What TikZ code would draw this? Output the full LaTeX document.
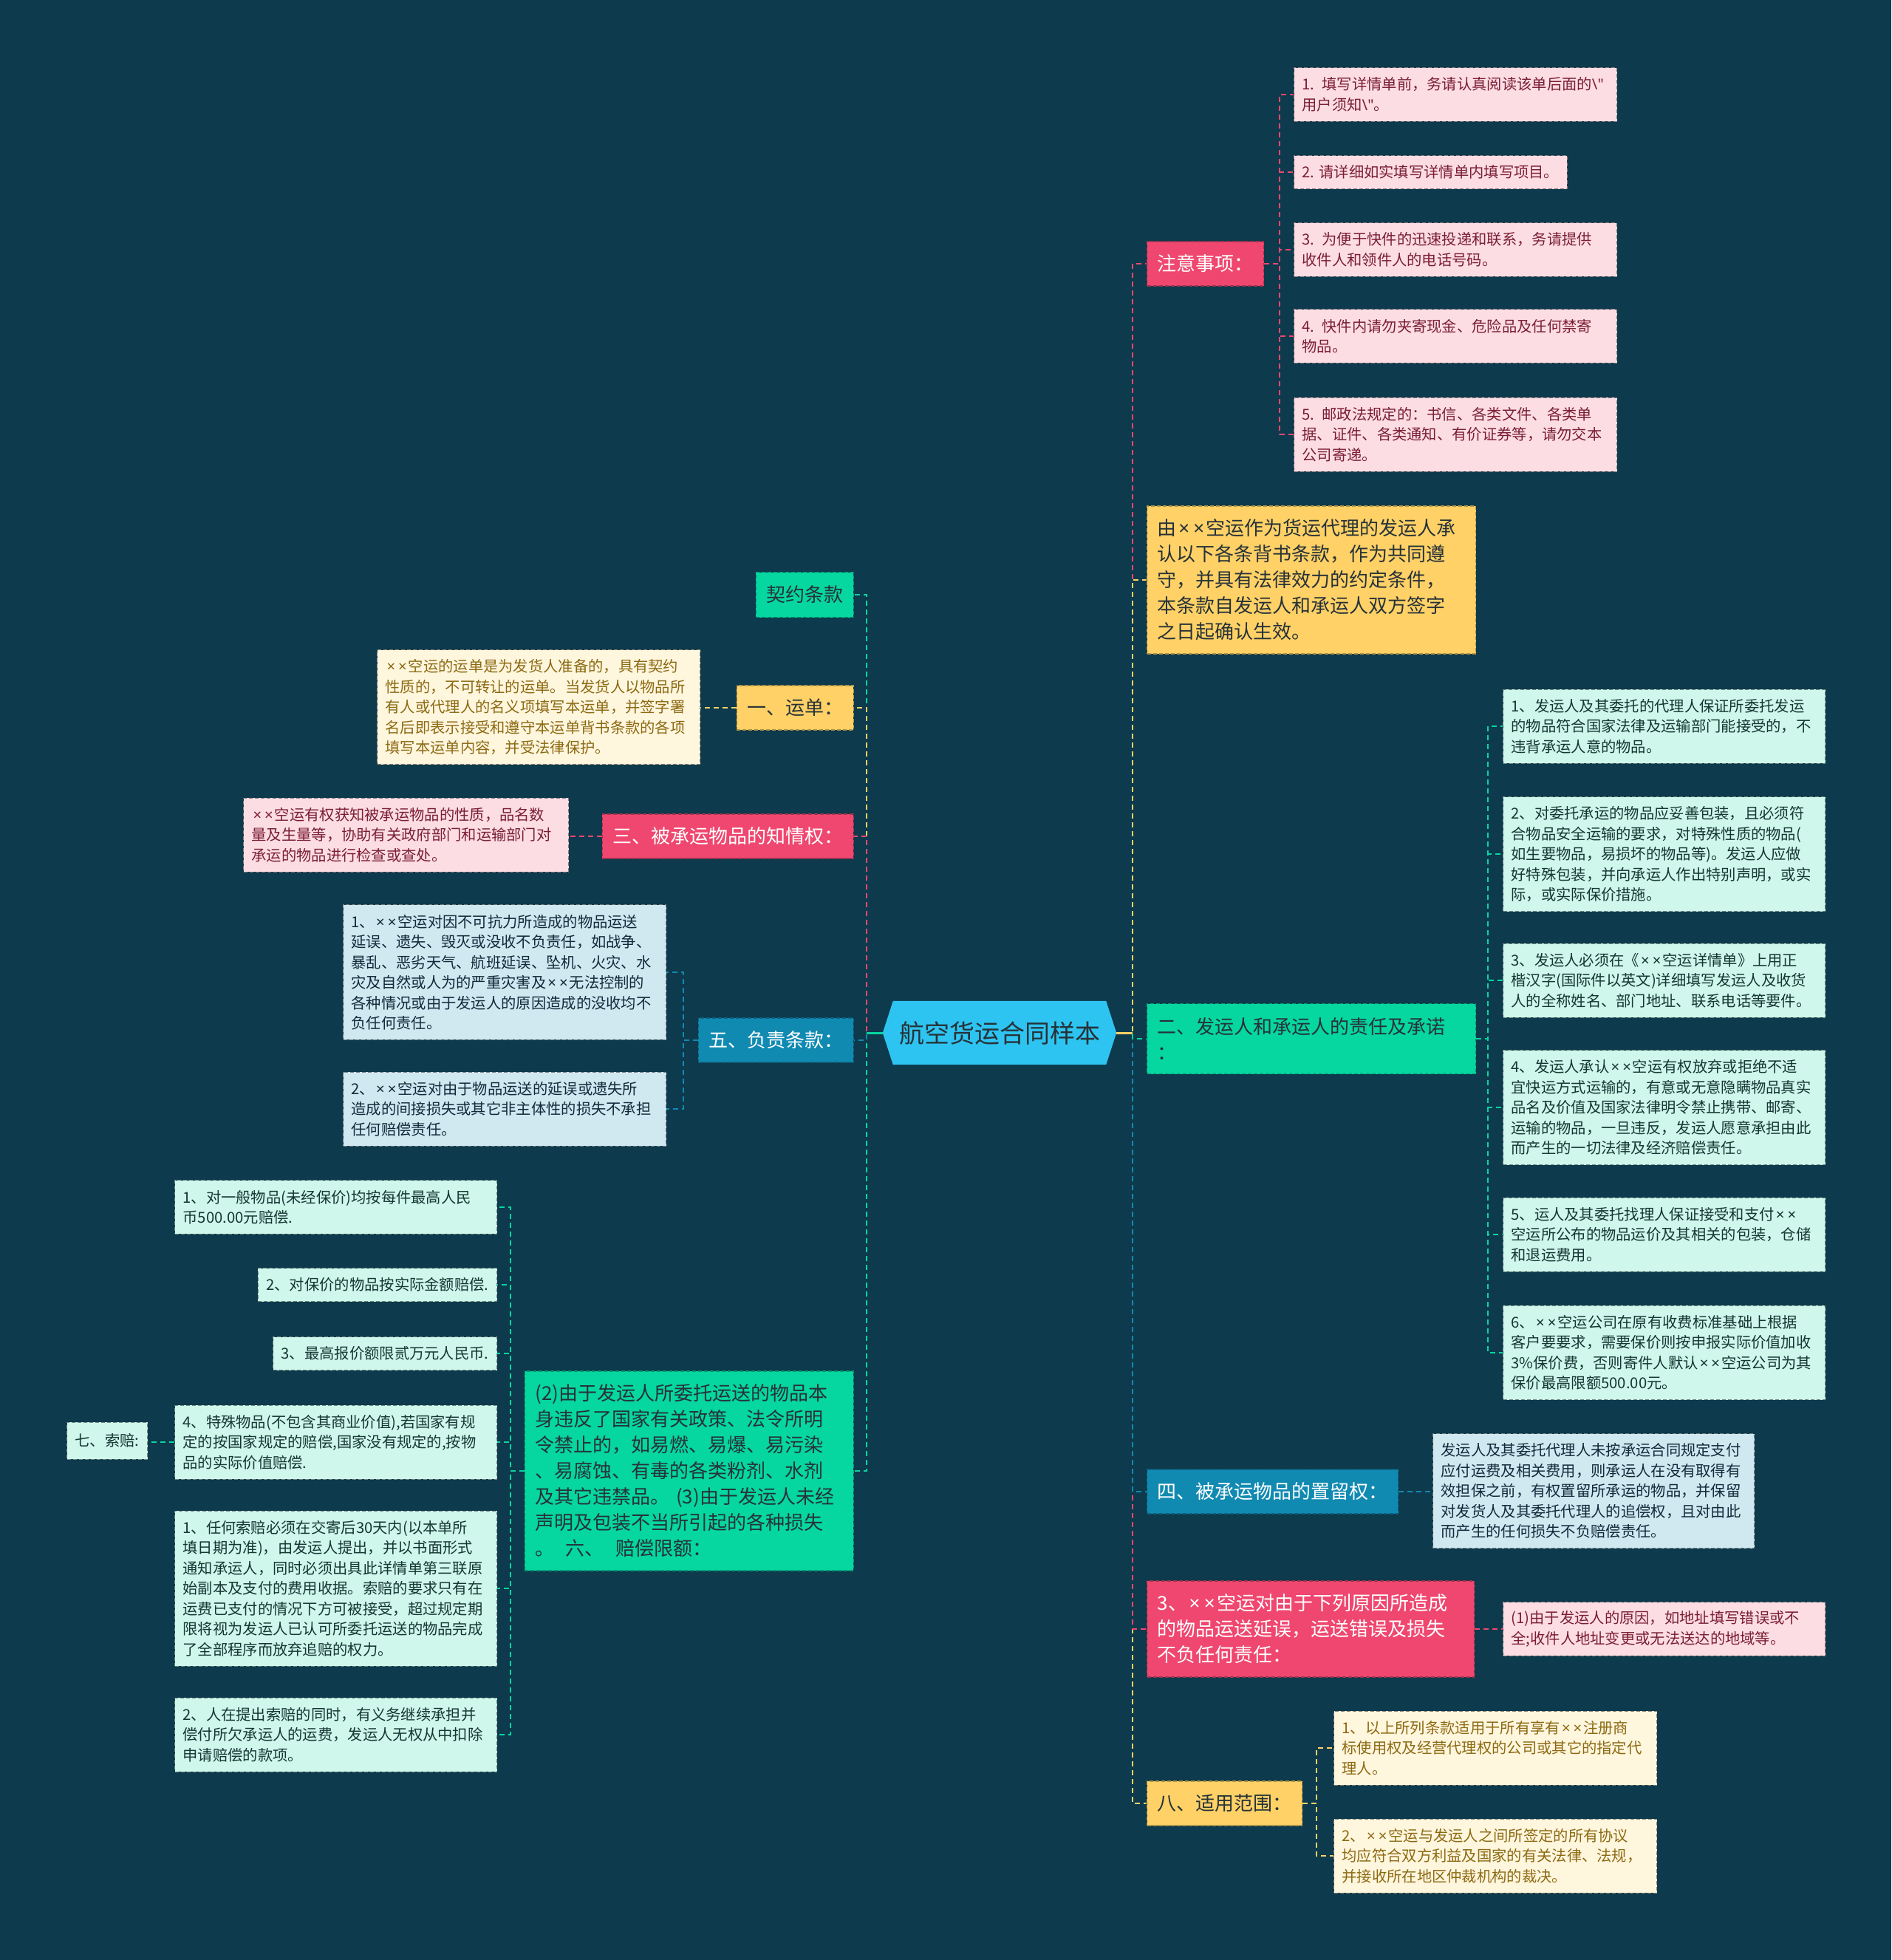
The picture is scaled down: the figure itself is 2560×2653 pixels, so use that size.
\documentclass[tikz,border=0pt]{standalone}
\usepackage{fontspec}
\setmainfont{Noto Sans CJK SC}
\newfontfamily\latf{Noto Sans}
\newcommand{\tms}{{\latf\kern0.1em×\kern0.1em}}
\newcommand{\bsq}{{\latf\textbackslash"}}
\usetikzlibrary{calc}
\pgfdeclarelayer{bglayer}
\pgfsetlayers{bglayer,main}
\definecolor{bgc}{HTML}{0D3A4C}
\definecolor{pk}{HTML}{EF476F}
\definecolor{yl}{HTML}{FFD166}
\definecolor{gn}{HTML}{06D6A0}
\definecolor{bl}{HTML}{118AB2}
\definecolor{ct}{HTML}{2EC4F1}
\definecolor{lpk}{HTML}{FDDDE4}
\definecolor{lyl}{HTML}{FFF6DE}
\definecolor{lgn}{HTML}{CFF7EC}
\definecolor{lbl}{HTML}{D0E8F0}
\definecolor{tpk}{HTML}{7A1E33}
\definecolor{tyl}{HTML}{8C6A12}
\definecolor{tgn}{HTML}{153632}
\definecolor{tbl}{HTML}{12293A}
\definecolor{tdk}{HTML}{263238}
\begin{document}
\begin{tikzpicture}[x=1pt,y=-1pt,
  br/.style={font=\fontsize{26pt}{35pt}\selectfont, inner xsep=14pt, inner ysep=0pt, align=left, line width=1.3pt, dash pattern=on 5pt off 3pt},
  brpk/.style={br, fill=pk, draw=pk!70!black, text=white},
  bryl/.style={br, fill=yl, draw=yl!70!black, text=tdk},
  brgn/.style={br, fill=gn, draw=gn!70!black, text=tdk},
  brbl/.style={br, fill=bl, draw=bl!70!black, text=white},
  lf/.style={font=\fontsize{20.3pt}{27.5pt}\selectfont, inner xsep=11pt, inner ysep=0pt, align=left, line width=1pt, dash pattern=on 5pt off 3pt},
  lfpk/.style={lf, fill=lpk, draw=lpk!55!black, text=tpk},
  lfyl/.style={lf, fill=lyl, draw=lyl!55!black, text=tyl},
  lfgn/.style={lf, fill=lgn, draw=lgn!55!black, text=tgn},
  lfbl/.style={lf, fill=lbl, draw=lbl!55!black, text=tbl},
  cn/.style={draw=#1, line width=2pt, dash pattern=on 7pt off 5pt},
]
\useasboundingbox (0,0) rectangle (2560,2653);

% central
\node[font=\fontsize{34pt}{40pt}\selectfont, text=tdk, minimum width=316pt, minimum height=86pt, inner sep=0pt] (ctr) at (1353,1398) {航空货运合同样本};

% ---------- right side ----------
\node[brpk, anchor=west, minimum height=60pt] (zy) at (1552,357) {注意事项：};
\node[lfpk, anchor=west, text width=415pt, minimum height=72.5pt] (c1) at (1751,128) {1. 填写详情单前，务请认真阅读该单后面的\bsq\\用户须知\bsq。};
\node[lfpk, anchor=west, minimum height=45pt] (c2) at (1751,233) {2. 请详细如实填写详情单内填写项目。};
\node[lfpk, anchor=west, text width=415pt, minimum height=72.5pt] (c3) at (1751,338) {3. 为便于快件的迅速投递和联系，务请提供\\收件人和领件人的电话号码。};
\node[lfpk, anchor=west, text width=415pt, minimum height=72.5pt] (c4) at (1751,455) {4. 快件内请勿夹寄现金、危险品及任何禁寄\\物品。};
\node[lfpk, anchor=west, text width=415pt, minimum height=100pt] (c5) at (1751,588) {5. 邮政法规定的：书信、各类文件、各类单\\据、证件、各类通知、有价证券等，请勿交本\\公司寄递。};

\node[bryl, anchor=west, text width=417pt, minimum height=200pt] (yz) at (1552,785) {由\tms\tms{}空运作为货运代理的发运人承\\认以下各条背书条款，作为共同遵\\守，并具有法律效力的约定条件，\\本条款自发运人和承运人双方签字\\之日起确认生效。};

\node[brgn, anchor=west, text width=417pt, minimum height=95pt] (er) at (1552,1406) {二、发运人和承运人的责任及承诺\\：};
\node[lfgn, anchor=west, text width=414pt, minimum height=100pt] (k1) at (2034,983) {1、发运人及其委托的代理人保证所委托发运\\的物品符合国家法律及运输部门能接受的，不\\违背承运人意的物品。};
\node[lfgn, anchor=west, text width=414pt, minimum height=155pt] (k2) at (2034,1156) {2、对委托承运的物品应妥善包装，且必须符\\合物品安全运输的要求，对特殊性质的物品(\\如生要物品，易损坏的物品等)。发运人应做\\好特殊包装，并向承运人作出特别声明，或实\\际，或实际保价措施。};
\node[lfgn, anchor=west, text width=414pt, minimum height=100pt] (k3) at (2034,1327) {3、发运人必须在《\tms\tms{}空运详情单》上用正\\楷汉字(国际件以英文)详细填写发运人及收货\\人的全称姓名、部门地址、联系电话等要件。};
\node[lfgn, anchor=west, text width=414pt, minimum height=155pt] (k4) at (2034,1499) {4、发运人承认\tms\tms{}空运有权放弃或拒绝不适\\宜快运方式运输的，有意或无意隐瞒物品真实\\品名及价值及国家法律明令禁止携带、邮寄、\\运输的物品，一旦违反，发运人愿意承担由此\\而产生的一切法律及经济赔偿责任。};
\node[lfgn, anchor=west, text width=414pt, minimum height=100pt] (k5) at (2034,1671) {5、运人及其委托找理人保证接受和支付\tms\tms\\空运所公布的物品运价及其相关的包装，仓储\\和退运费用。};
\node[lfgn, anchor=west, text width=414pt, minimum height=127.5pt] (k6) at (2034,1831) {6、\tms\tms{}空运公司在原有收费标准基础上根据\\客户要要求，需要保价则按申报实际价值加收\\3\%保价费，否则寄件人默认\tms\tms{}空运公司为其\\保价最高限额500.00元。};

\node[brbl, anchor=west, minimum height=60pt] (si) at (1552,2019) {四、被承运物品的置留权：};
\node[lfbl, anchor=west, text width=413pt, minimum height=155pt] (sic) at (1939,2018) {发运人及其委托代理人未按承运合同规定支付\\应付运费及相关费用，则承运人在没有取得有\\效担保之前，有权置留所承运的物品，并保留\\对发货人及其委托代理人的追偿权，且对由此\\而产生的任何损失不负赔偿责任。};

\node[brpk, anchor=west, text width=415pt, minimum height=130pt] (sa) at (1552,2205) {3、\tms\tms{}空运对由于下列原因所造成\\的物品运送延误，运送错误及损失\\不负任何责任：};
\node[lfpk, anchor=west, text width=414pt, minimum height=72.5pt] (sac) at (2034,2205) {(1)由于发运人的原因，如地址填写错误或不\\全;收件人地址变更或无法送达的地域等。};

\node[bryl, anchor=west, minimum height=60pt] (ba) at (1552,2441) {八、适用范围：};
\node[lfyl, anchor=west, text width=415pt, minimum height=100pt] (y1) at (1805,2366) {1、以上所列条款适用于所有享有\tms\tms{}注册商\\标使用权及经营代理权的公司或其它的指定代\\理人。};
\node[lfyl, anchor=west, text width=415pt, minimum height=100pt] (y2) at (1805,2512) {2、\tms\tms{}空运与发运人之间所签定的所有协议\\均应符合双方利益及国家的有关法律、法规，\\并接收所在地区仲裁机构的裁决。};

% ---------- left side ----------
\node[brgn, anchor=east, minimum height=61pt] (qy) at (1156,805) {契约条款};
\node[bryl, anchor=east, minimum height=60pt] (yd) at (1156,958) {一、运单：};
\node[lfyl, anchor=east, text width=415pt, minimum height=155pt] (ydc) at (948,957) {\tms\tms{}空运的运单是为发货人准备的，具有契约\\性质的，不可转让的运单。当发货人以物品所\\有人或代理人的名义项填写本运单，并签字署\\名后即表示接受和遵守本运单背书条款的各项\\填写本运单内容，并受法律保护。};
\node[brpk, anchor=east, minimum height=60pt] (sn) at (1156,1132) {三、被承运物品的知情权：};
\node[lfpk, anchor=east, text width=418pt, minimum height=100pt] (snc) at (770,1130) {\tms\tms{}空运有权获知被承运物品的性质，品名数\\量及生量等，协助有关政府部门和运输部门对\\承运的物品进行检查或查处。};
\node[brbl, anchor=east, minimum height=60pt] (wu) at (1156,1408) {五、负责条款：};
\node[lfbl, anchor=east, text width=415pt, minimum height=182.5pt] (f1) at (902,1316) {1、\tms\tms{}空运对因不可抗力所造成的物品运送\\延误、遗失、毁灭或没收不负责任，如战争、\\暴乱、恶劣天气、航班延误、坠机、火灾、水\\灾及自然或人为的严重灾害及\tms\tms{}无法控制的\\各种情况或由于发运人的原因造成的没收均不\\负任何责任。};
\node[lfbl, anchor=east, text width=415pt, minimum height=100pt] (f2) at (902,1501) {2、\tms\tms{}空运对由于物品运送的延误或遗失所\\造成的间接损失或其它非主体性的损失不承担\\任何赔偿责任。};

\node[brgn, anchor=east, text width=417pt, minimum height=270pt] (lu) at (1156,1991) {(2)由于发运人所委托运送的物品本\\身违反了国家有关政策、法令所明\\令禁止的，如易燃、易爆、易污染\\、易腐蚀、有毒的各类粉剂、水剂\\及其它违禁品。 (3)由于发运人未经\\声明及包装不当所引起的各种损失\\。\hspace{0.6em}六、\hspace{0.6em}赔偿限额：};
\node[lfgn, anchor=east, text width=414pt, minimum height=72.5pt] (g1) at (673,1634) {1、对一般物品(未经保价)均按每件最高人民\\币500.00元赔偿.};
\node[lfgn, anchor=east, minimum height=45pt] (g2) at (673,1739) {2、对保价的物品按实际金额赔偿.};
\node[lfgn, anchor=east, minimum height=45pt] (g3) at (673,1832) {3、最高报价额限贰万元人民币.};
\node[lfgn, anchor=east, text width=414pt, minimum height=100pt] (g4) at (673,1952) {4、特殊物品(不包含其商业价值),若国家有规\\定的按国家规定的赔偿,国家没有规定的,按物\\品的实际价值赔偿.};
\node[lfgn, anchor=east, minimum height=50pt] (qs) at (200,1950) {七、索赔:};
\node[lfgn, anchor=east, text width=414pt, minimum height=210pt] (g5) at (673,2150) {1、任何索赔必须在交寄后30天内(以本单所\\填日期为准)，由发运人提出，并以书面形式\\通知承运人，同时必须出具此详情单第三联原\\始副本及支付的费用收据。索赔的要求只有在\\运费已支付的情况下方可被接受，超过规定期\\限将视为发运人已认可所委托运送的物品完成\\了全部程序而放弃追赔的权力。};
\node[lfgn, anchor=east, text width=414pt, minimum height=100pt] (g6) at (673,2348) {2、人在提出索赔的同时，有义务继续承担并\\偿付所欠承运人的运费，发运人无权从中扣除\\申请赔偿的款项。};

% ---------- connectors: centre to branches ----------
\draw[cn=pk] (ctr.east) -- ++(22,0) |- (zy.west);
\draw[cn=yl] (ctr.east) -- ++(22,0) |- (ba.west);
\draw[cn=pk] (ctr.east) -- ++(22,0) |- (sa.west);
\draw[cn=bl] (ctr.east) -- ++(22,0) |- (si.west);
\draw[cn=yl] (ctr.east) -- ++(22,0) |- (yz.west);
\draw[cn=gn] (ctr.east) -- ++(22,0) |- (er.west);
\draw[yl, line width=3pt] (ctr.east) -- ++(22,0);

\draw[cn=gn] (ctr.west) -- ++(-22,0) |- (qy.east);
\draw[cn=yl] (ctr.west) -- ++(-22,0) |- (yd.east);
\draw[cn=gn] (ctr.west) -- ++(-22,0) |- (lu.east);
\draw[cn=pk] (ctr.west) -- ++(-22,0) |- (sn.east);
\draw[cn=bl] (ctr.west) -- ++(-22,0) |- (wu.east);
\draw[gn, line width=3pt] (ctr.west) -- ++(-22,0);

% ---------- connectors: branches to leaves ----------
\foreach \n in {c1,c2,c3,c4,c5} \draw[cn=pk] (zy.east) -- ++(21,0) |- (\n.west);
\foreach \n in {k1,k2,k3,k4,k5,k6} \draw[cn=gn] (er.east) -- ++(16,0) |- (\n.west);
\draw[cn=bl] (si.east) -- (si.east -| sic.west);
\draw[cn=pk] (sa.east) -- (sa.east -| sac.west);
\foreach \n in {y1,y2} \draw[cn=yl] (ba.east) -- ++(19,0) |- (\n.west);
\draw[cn=yl] (yd.west) -- (yd.west -| ydc.east);
\draw[cn=pk] (sn.west) -- (sn.west -| snc.east);
\foreach \n in {f1,f2} \draw[cn=bl] (wu.west) -- ++(-20,0) |- (\n.east);
\foreach \n in {g1,g2,g3,g4,g5,g6} \draw[cn=gn] (lu.west) -- ++(-19,0) |- (\n.east);
\draw[cn=gn] (g4.west) -- (g4.west -| qs.east);

\begin{pgfonlayer}{bglayer}
\fill[bgc] (0,0) rectangle (2560,2653);
\fill[ct] ([xshift=14pt]ctr.north west) -- (ctr.west) -- ([xshift=14pt]ctr.south west) -- ([xshift=-14pt]ctr.south east) -- (ctr.east) -- ([xshift=-14pt]ctr.north east) -- cycle;
\end{pgfonlayer}
\end{tikzpicture}
\end{document}
